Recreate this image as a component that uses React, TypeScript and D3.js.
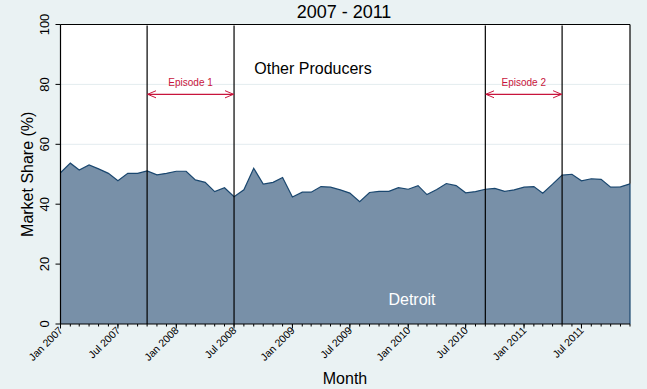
import * as d3 from "d3";

// Detroit share of the market, monthly Jan 2007 - Dec 2011 (%)
const startMonth = new Date(2007, 0, 1);
const detroitShare = [
  50.5, 53.7, 51.4, 53.1, 51.8, 50.3, 47.8, 50.3, 50.3, 51.1, 49.8, 50.3,
  51.0, 51.0, 48.1, 47.3, 44.2, 45.5, 42.5, 44.8, 52.0, 46.7, 47.3, 48.9,
  42.4, 44.0, 44.0, 45.9, 45.7, 44.8, 43.7, 40.8, 43.9, 44.3, 44.3, 45.5,
  45.0, 46.2, 43.2, 44.9, 46.9, 46.2, 43.8, 44.2, 45.0, 45.3, 44.3, 44.8,
  45.7, 45.9, 43.7, 46.7, 49.7, 50.0, 47.8, 48.5, 48.3, 45.7, 45.8, 46.8,
];
const yTicks = [0, 20, 40, 60, 80, 100];
const episodes = [
  { label: "Episode 1", start: new Date(2007, 9, 1), end: new Date(2008, 6, 1) },
  { label: "Episode 2", start: new Date(2010, 8, 1), end: new Date(2011, 4, 1) },
];
const episodeLevel = 76.7;

const width = 647;
const height = 389;
const margin = { top: 24.5, right: 17, bottom: 65, left: 60.5 };

const navy = "#1a476f";
const bg = "#eaf2f3";
const red = "#c8143c";
const font = "'Liberation Sans', Arial, sans-serif";

export default function App() {
  const months = detroitShare.map((_, i) => d3.timeMonth.offset(startMonth, i));
  const data = months.map((m, i) => ({ date: m, value: detroitShare[i] }));

  const x = d3.scaleTime()
    .domain([months[0], months[months.length - 1]])
    .range([margin.left, width - margin.right]);
  const y = d3.scaleLinear()
    .domain([0, 100])
    .range([height - margin.bottom, margin.top]);

  const area = d3.area<{ date: Date; value: number }>()
    .x(d => x(d.date))
    .y0(y(0))
    .y1(d => y(d.value));
  const line = d3.line<{ date: Date; value: number }>()
    .x(d => x(d.date))
    .y(d => y(d.value));

  const major = months.filter(m => m.getMonth() % 6 === 0);
  const fmt = d3.timeFormat("%b %Y");
  const x0 = margin.left;
  const x1 = width - margin.right;
  const y0 = y(0);
  const yTop = y(100);
  const yLast = y(detroitShare[detroitShare.length - 1]);

  return (
    <svg width={width} height={height} style={{ position: "absolute", left: 0, top: 0, fontFamily: font }}>
      <defs>
        <marker id="arr" viewBox="0 0 10 10" refX="9.5" refY="5" markerWidth="9" markerHeight="9" orient="auto-start-reverse" markerUnits="userSpaceOnUse">
          <path d="M0,1 L9.5,5 L0,9" fill="none" stroke={red} strokeWidth={1.1} />
        </marker>
      </defs>
      <rect width={width} height={height} fill={bg} />
      <rect x={x0} y={yTop} width={x1 - x0} height={y0 - yTop} fill="white" />
      {yTicks.filter(t => t > 0 && t < 100).map(t => (
        <line key={t} x1={x0} x2={x1} y1={y(t)} y2={y(t)} stroke="#e3ecef" strokeWidth={1} />
      ))}
      <path d={area(data) ?? ""} fill="#7890a8" />
      <path d={line(data) ?? ""} fill="none" stroke={navy} strokeWidth={1.2} />
      <line x1={x1} x2={x1} y1={yLast} y2={y0} stroke={navy} strokeWidth={1.2} />

      {episodes.flatMap(e => [e.start, e.end]).map((d, i) => (
        <line key={i} x1={x(d)} x2={x(d)} y1={yTop + 1} y2={y0} stroke="black" strokeWidth={1.2} />
      ))}
      {episodes.map(e => (
        <g key={e.label}>
          <line x1={x(e.start) + 0.5} x2={x(e.end) - 0.5} y1={y(episodeLevel)} y2={y(episodeLevel)} stroke={red} strokeWidth={1.2}
            markerStart="url(#arr)" markerEnd="url(#arr)" />
          <text x={(x(e.start) + x(e.end)) / 2} y={y(episodeLevel) - 8} textAnchor="middle" fontSize={10} fill={red}>{e.label}</text>
        </g>
      ))}

      <text x={313} y={74} textAnchor="middle" fontSize={16} fill="black">Other Producers</text>
      <text x={412} y={305} textAnchor="middle" fontSize={16} fill="white">Detroit</text>

      {/* frame */}
      <line x1={x0} x2={x1} y1={yTop} y2={yTop} stroke="black" strokeWidth={1.2} />
      <line x1={x1} x2={x1} y1={yTop} y2={yLast} stroke="black" strokeWidth={1.2} />
      <line x1={x0} x2={x0} y1={yTop} y2={y0} stroke="black" strokeWidth={1.2} />
      <line x1={x0} x2={x1} y1={y0} y2={y0} stroke="black" strokeWidth={1.2} />

      {/* y axis */}
      {yTicks.map(t => (
        <g key={t}>
          <line x1={x0 - 5} x2={x0} y1={y(t)} y2={y(t)} stroke="black" strokeWidth={1} />
          <text transform={`translate(${x0 - 12},${y(t)}) rotate(-90)`} textAnchor="middle" fontSize={13}>{t}</text>
        </g>
      ))}
      <text transform={`translate(33,${(y0 + yTop) / 2}) rotate(-90)`} textAnchor="middle" fontSize={16}>Market Share (%)</text>

      {/* x axis */}
      {months.map((m, i) => (
        <line key={i} x1={x(m)} x2={x(m)} y1={y0} y2={y0 + 2.5} stroke="black" strokeWidth={1} />
      ))}
      {major.map((m, i) => (
        <g key={i}>
          <line x1={x(m)} x2={x(m)} y1={y0} y2={y0 + 4.5} stroke="black" strokeWidth={1} />
          <text transform={`translate(${x(m) + 3},${y0 + 7}) rotate(-45)`} textAnchor="end" fontSize={10.5}>{fmt(m)}</text>
        </g>
      ))}
      <text x={345} y={384} textAnchor="middle" fontSize={16}>Month</text>

      <text x={344} y={18} textAnchor="middle" fontSize={18}>2007 - 2011</text>
    </svg>
  );
}
